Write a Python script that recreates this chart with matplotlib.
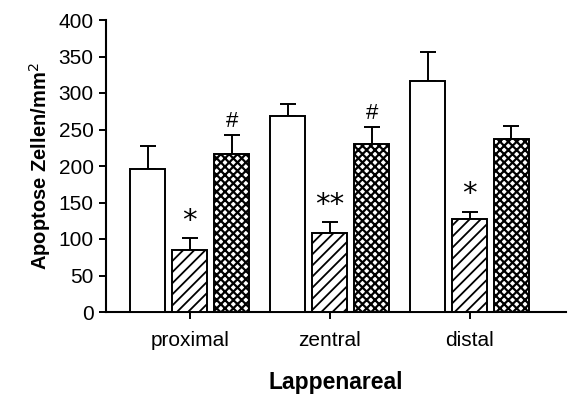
import matplotlib
matplotlib.use("Agg")
import matplotlib.pyplot as plt
import numpy as np

plt.rcParams['font.family'] = ['Liberation Sans', 'DejaVu Sans']

categories = ["proximal", "zentral", "distal"]
control = [196, 268, 316]
control_err = [32, 17, 40]
treated = [85, 108, 127]
treated_err = [16, 15, 10]
combined = [217, 230, 237]
combined_err = [25, 23, 18]
treated_marks = ["*", "**", "*"]
combined_marks = ["#", "#", ""]

fig = plt.figure(figsize=(5.68, 3.97), dpi=100)
ax = fig.add_axes([106/568, (397-312)/397, (566-106)/568, (312-20)/397])

x = np.arange(len(categories))
w = 0.25
off = 0.30
kw = dict(edgecolor="black", linewidth=1.4, zorder=3)
ekw = dict(capsize=6, capthick=1.4, elinewidth=1.4, ecolor="black")

def draw(pos, vals, errs, hatch, hlw):
    with plt.rc_context({"hatch.linewidth": hlw}):
        ax.bar(pos, vals, w, color="white", hatch=hatch, **kw)
    ax.errorbar(pos, vals, yerr=[np.zeros(len(errs)), errs], fmt="none", zorder=2, **ekw)

draw(x - off, control, control_err, None, 1.0)
draw(x, treated, treated_err, "///", 1.3)
draw(x + off, combined, combined_err, "xxxx", 1.6)

for i in range(len(categories)):
    if treated_marks[i]:
        ax.text(x[i], treated[i] + treated_err[i] + 5, treated_marks[i], ha="center",
                va="bottom", fontsize=21, family="DejaVu Sans")
    if combined_marks[i]:
        ax.text(x[i] + off, combined[i] + combined_err[i] + 5, combined_marks[i], ha="center",
                va="bottom", fontsize=16)

ax.set_xlim(-0.6, 2.69)
ax.set_ylim(0, 400)
ax.set_yticks(np.arange(0, 401, 50))
ax.set_xticks(x)
ax.set_xticklabels(categories)
ax.tick_params(axis="both", labelsize=15, width=1.4, length=5, color="black")
ax.tick_params(axis="x", pad=9)
ax.tick_params(axis="y", pad=4)
for s in ["top", "right"]:
    ax.spines[s].set_visible(False)
for s in ["left", "bottom"]:
    ax.spines[s].set_linewidth(1.5)

ax.set_ylabel("Apoptose Zellen/mm$^{2}$", fontsize=14.5, fontweight="bold", labelpad=4)
ax.set_xlabel("Lappenareal", fontsize=16.5, fontweight="bold", labelpad=15)

fig.savefig("out.png", dpi=100)
